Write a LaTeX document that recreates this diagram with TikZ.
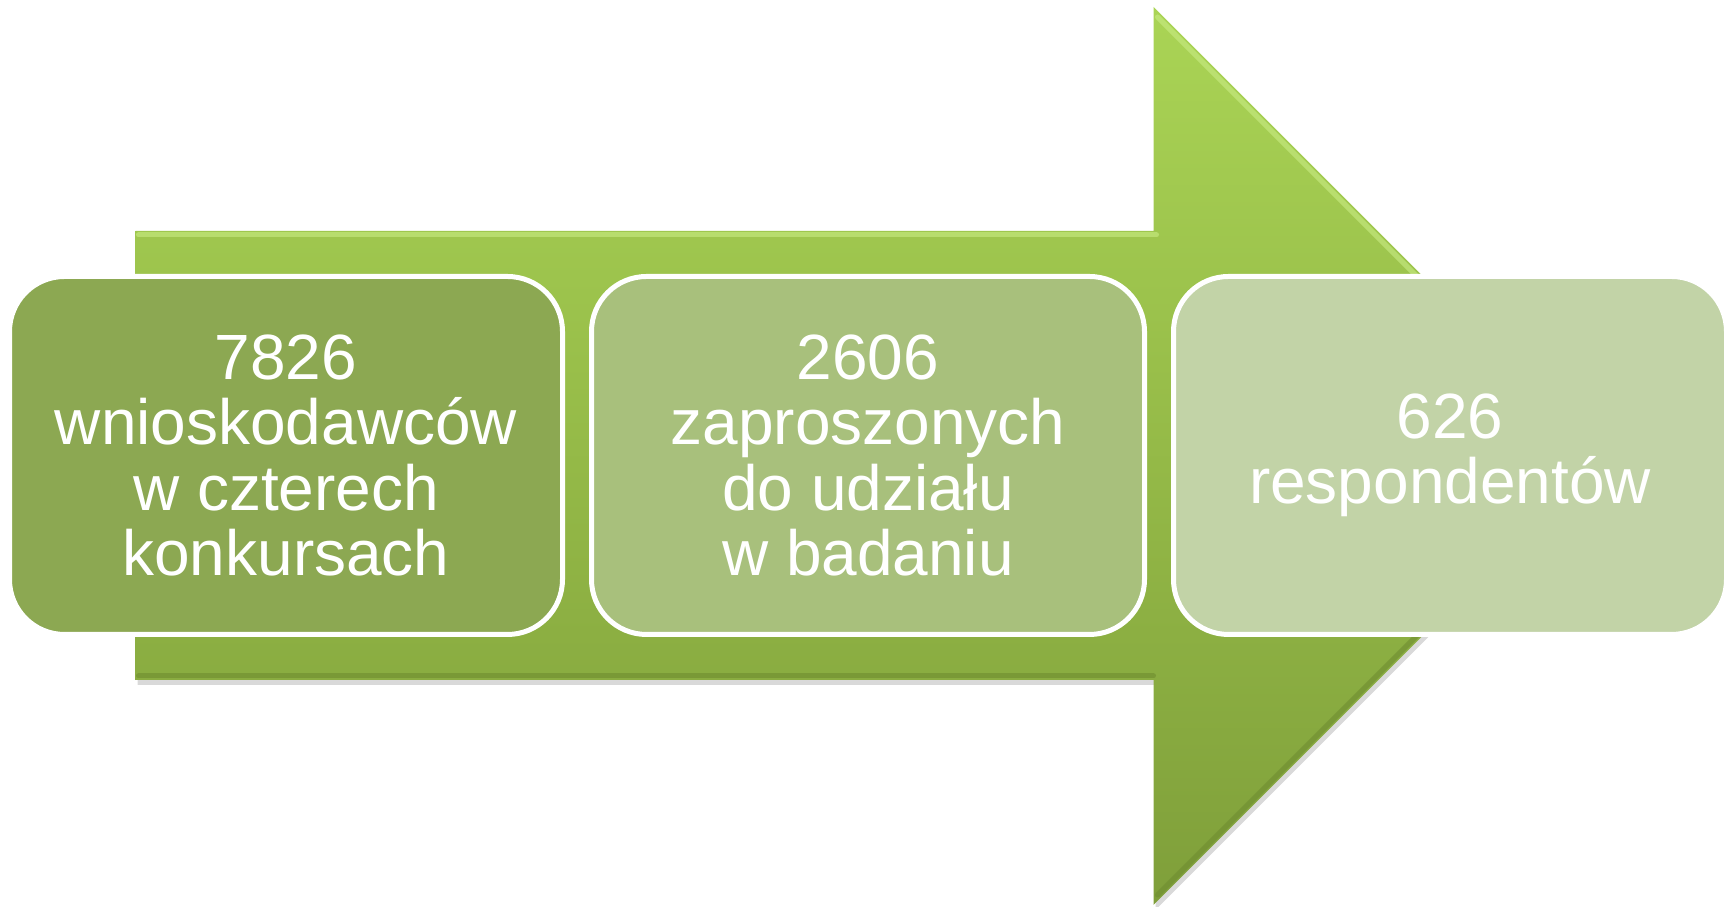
\documentclass[tikz,border=0pt]{standalone}
\usepackage{fontspec}
\setmainfont{Liberation Sans}
\usetikzlibrary{positioning, shadows}
\definecolor{arrowTop}{HTML}{AAD455}
\definecolor{arrowBot}{HTML}{7F9F3A}
\definecolor{arrowLight}{HTML}{C9EC84}
\definecolor{arrowDark}{HTML}{6E8C30}
\definecolor{stageA}{HTML}{8CA852}
\definecolor{stageB}{HTML}{A8C07C}
\definecolor{stageC}{HTML}{C2D3A7}

\begin{document}
\begin{tikzpicture}[
        stage/.style={rectangle, draw=white, line width=0.05cm, rounded corners=0.55cm, minimum width=5.53cm, minimum height=3.58cm, align=center, text=white, font=\fontsize{18.2pt}{18.5pt}\selectfont},
        bevel/.style={line width=0.05cm, line cap=round, opacity=0.6}
    ]
        \useasboundingbox (0,0) rectangle (17.31,9.07);

        % Arrow outline
        \coordinate (sTL) at (1.355,6.76);
        \coordinate (jT) at (11.535,6.76);
        \coordinate (hT) at (11.535,9.00);
        \coordinate (tip) at (16.025,4.51);
        \coordinate (hB) at (11.535,0.02);
        \coordinate (jB) at (11.535,2.27);
        \coordinate (sBL) at (1.355,2.27);

        \shade[top color=arrowTop, bottom color=arrowBot, drop shadow={opacity=0.3, shadow xshift=0.02cm, shadow yshift=-0.05cm}]
            (sTL) -- (jT) -- (hT) -- (tip) -- (hB) -- (jB) -- (sBL) -- cycle;

        % Bevel edges
        \draw[bevel, arrowLight] ([shift={(0.03,-0.04)}]sTL) -- ([shift={(0.03,-0.04)}]jT);
        \draw[bevel, arrowLight] ([shift={(0.04,-0.1)}]hT) -- ([shift={(-0.06,0)}]tip);
        \draw[bevel, arrowDark] ([shift={(0.03,0.04)}]sBL) -- ([shift={(0,0.04)}]jB);
        \draw[bevel, arrowDark] ([shift={(0.04,0.1)}]hB) -- ([shift={(-0.06,0)}]tip);

        % Stages
        \node[stage, fill=stageA] (s1) at (2.86,4.515) {7826\\wnioskodawców\\w czterech\\konkursach};
        \node[stage, fill=stageB, right=0.24cm of s1] (s2) {2606\\zaproszonych\\do udziału\\w badaniu};
        \node[stage, fill=stageC, right=0.24cm of s2] (s3) {626\\respondentów};
    \end{tikzpicture}
\end{document}
